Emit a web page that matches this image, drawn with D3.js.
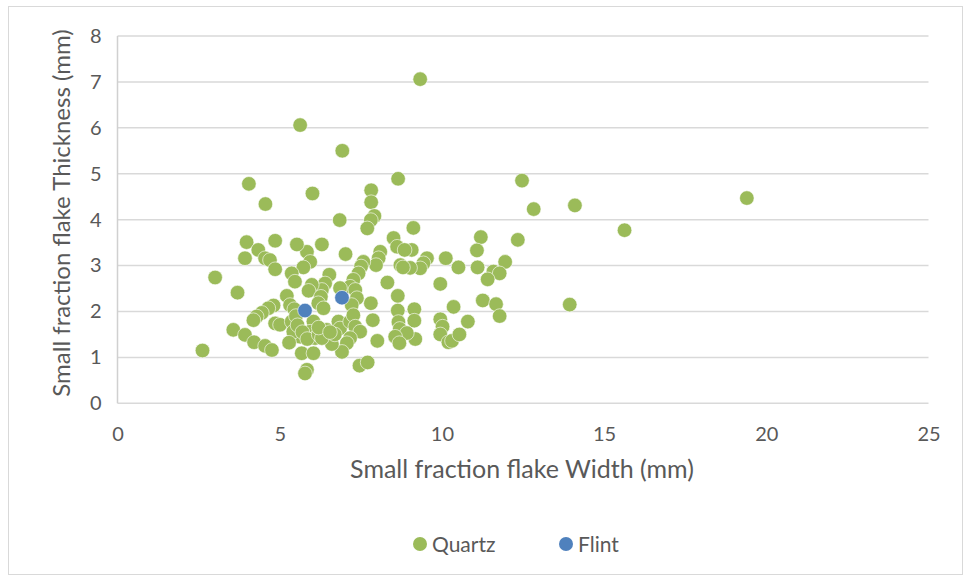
<!DOCTYPE html>
<html><head><meta charset="utf-8">
<script src="https://cdn.jsdelivr.net/npm/d3@7"></script>
<style>body{margin:0;background:#fff}svg{display:block}</style>
</head><body>
<script>
const xTicks = [0, 5, 10, 15, 20, 25];
const yTicks = [0, 1, 2, 3, 4, 5, 6, 7, 8];
const seriesNames = ["Quartz", "Flint"];
const seriesColors = ["#9BBB59", "#4F81BD"];
const quartzWidth = [9.33,5.63,6.93,4.05,4.56,6.01,8.65,7.82,7.82,7.92,7.81,6.85,7.70,9.12,12.47,12.83,14.1,19.4,15.63,13.94,12.34,
 11.2,11.08,11.95,11.1,11.59,11.78,11.41,11.26,11.67,11.78,10.12,10.51,9.95,9.54,9.43,9.33,9.02,9.07,8.51,8.62,8.85,8.72,8.8,8.32,8.64,8.64,9.15,10.36,10.8,9.95,10.02,9.95,10.2,10.31,10.54,9.15,9.18,8.66,8.7,8.92,8.56,8.69,8.01,7.87,7.81,
 6.3,7.03,5.84,5.94,5.73,8.1,8.05,7.97,7.58,7.51,7.43,6.53,7.27,7.17,6.86,6.4,6.3,5.99,5.89,6.27,6.19,6.35,7.33,7.38,7.22,6.04,5.94,6.09,6.45,6.81,6.86,7.17,7.27,7.33,7.48,7.17,7.07,6.92,6.61,5.63,5.68,6.04,5.84,5.78,7.46,7.71,
 3.98,4.86,5.53,4.34,3.93,4.55,4.70,4.86,5.37,5.47,3.01,3.70,5.22,5.32,4.81,4.65,4.45,4.29,4.19,4.86,5.01,5.37,5.42,3.57,3.93,4.21,4.55,4.76,5.29,2.62,
 5.45,5.5,5.55,5.7,5.85,6.2,6.3,6.2,6.7,6.55];
const quartzThickness = [7.06,6.06,5.50,4.78,4.34,4.57,4.89,4.64,4.38,4.08,3.99,3.99,3.81,3.82,4.85,4.23,4.31,4.47,3.77,2.15,3.56,
 3.62,3.33,3.08,2.96,2.87,2.83,2.70,2.24,2.16,1.90,3.16,2.96,2.60,3.16,3.05,2.94,2.95,3.34,3.60,3.41,3.34,3.01,2.96,2.63,2.34,2.02,2.05,2.10,1.78,1.83,1.67,1.50,1.33,1.36,1.50,1.80,1.40,1.77,1.62,1.53,1.45,1.31,1.36,1.81,2.18,
 3.46,3.25,3.30,3.08,2.96,3.30,3.16,3.01,3.08,2.98,2.83,2.80,2.69,2.54,2.51,2.61,2.47,2.58,2.45,2.32,2.18,2.07,2.47,2.29,2.14,1.78,1.56,1.42,1.60,1.78,1.63,1.78,1.92,1.67,1.56,1.42,1.31,1.12,1.29,1.45,1.09,1.09,0.73,0.65,0.82,0.89,
 3.51,3.54,3.46,3.34,3.16,3.16,3.12,2.92,2.83,2.65,2.74,2.41,2.34,2.14,2.13,2.07,1.97,1.89,1.81,1.74,1.71,1.78,1.56,1.60,1.49,1.33,1.25,1.16,1.32,1.15,
 2.05,1.9,1.7,1.55,1.4,1.5,1.42,1.65,1.5,1.55];
const flintWidth = [5.78, 6.92];
const flintThickness = [2.02, 2.30];

const W = 965, H = 578;
const svg = d3.select("body").append("svg").attr("width", W).attr("height", H);
svg.append("rect").attr("x", 8.5).attr("y", 6.5).attr("width", 954).attr("height", 568)
  .attr("fill", "#fff").attr("stroke", "#d9d9d9").attr("stroke-width", 1);

const pL = 117.5, pR = 928.5, pT = 36, pB = 403.3;
const x = d3.scaleLinear().domain([0, 25]).range([pL, pR]);
const y = d3.scaleLinear().domain([0, 8]).range([pB, pT]);
const font = "Lato, 'Open Sans', sans-serif";
const txt = "#595959";

// gridlines
svg.append("g").selectAll("line").data(yTicks).join("line")
  .attr("x1", pL).attr("x2", pR).attr("y1", d => y(d)).attr("y2", d => y(d))
  .attr("stroke", "#d9d9d9").attr("stroke-width", 1.5);
svg.append("line").attr("x1", pL).attr("x2", pL).attr("y1", pT).attr("y2", pB)
  .attr("stroke", "#d0d0d0").attr("stroke-width", 1.5);

// axes labels via d3 axes
const yAxis = svg.append("g").attr("transform", `translate(${pL},0)`)
  .call(d3.axisLeft(y).tickValues(yTicks).tickSize(0).tickPadding(16).tickFormat(d3.format("d")));
yAxis.select(".domain").remove();
yAxis.selectAll("text").attr("font-family", font).attr("font-size", 20).attr("fill", txt);

const xAxis = svg.append("g").attr("transform", `translate(0,${pB})`)
  .call(d3.axisBottom(x).tickValues(xTicks).tickSize(0).tickPadding(24).tickFormat(d3.format("d")));
xAxis.select(".domain").remove();
xAxis.selectAll("text").attr("font-family", font).attr("font-size", 20).attr("fill", txt);

svg.append("text").attr("x", 522).attr("y", 478).attr("text-anchor", "middle")
  .attr("font-family", font).attr("font-size", 25).attr("fill", txt).text("Small fraction flake Width (mm)");
svg.append("text").attr("transform", `translate(70,213) rotate(-90)`)
  .attr("text-anchor", "middle").attr("font-family", font).attr("font-size", 24).attr("fill", txt)
  .text("Small fraction flake Thickness (mm)");

// points
const quartz = quartzWidth.map((w, i) => ({ w, t: quartzThickness[i] }));
const flint = flintWidth.map((w, i) => ({ w, t: flintThickness[i] }));
svg.append("g").selectAll("circle").data(quartz).join("circle")
  .attr("cx", d => x(d.w)).attr("cy", d => y(d.t)).attr("r", 7.3)
  .attr("fill", seriesColors[0]).attr("stroke", "#fff").attr("stroke-width", 0.6);
svg.append("g").selectAll("circle").data(flint).join("circle")
  .attr("cx", d => x(d.w)).attr("cy", d => y(d.t)).attr("r", 7.3)
  .attr("fill", seriesColors[1]).attr("stroke", "#fff").attr("stroke-width", 0.6);

// legend
const legX = [420, 566];
const lg = svg.append("g");
seriesNames.forEach((n, i) => {
  lg.append("circle").attr("cx", legX[i]).attr("cy", 544).attr("r", 7).attr("fill", seriesColors[i]);
  lg.append("text").attr("x", legX[i] + 12).attr("y", 551.5).attr("font-family", font)
    .attr("font-size", 21).attr("fill", txt).text(n);
});
</script>
</body></html>
